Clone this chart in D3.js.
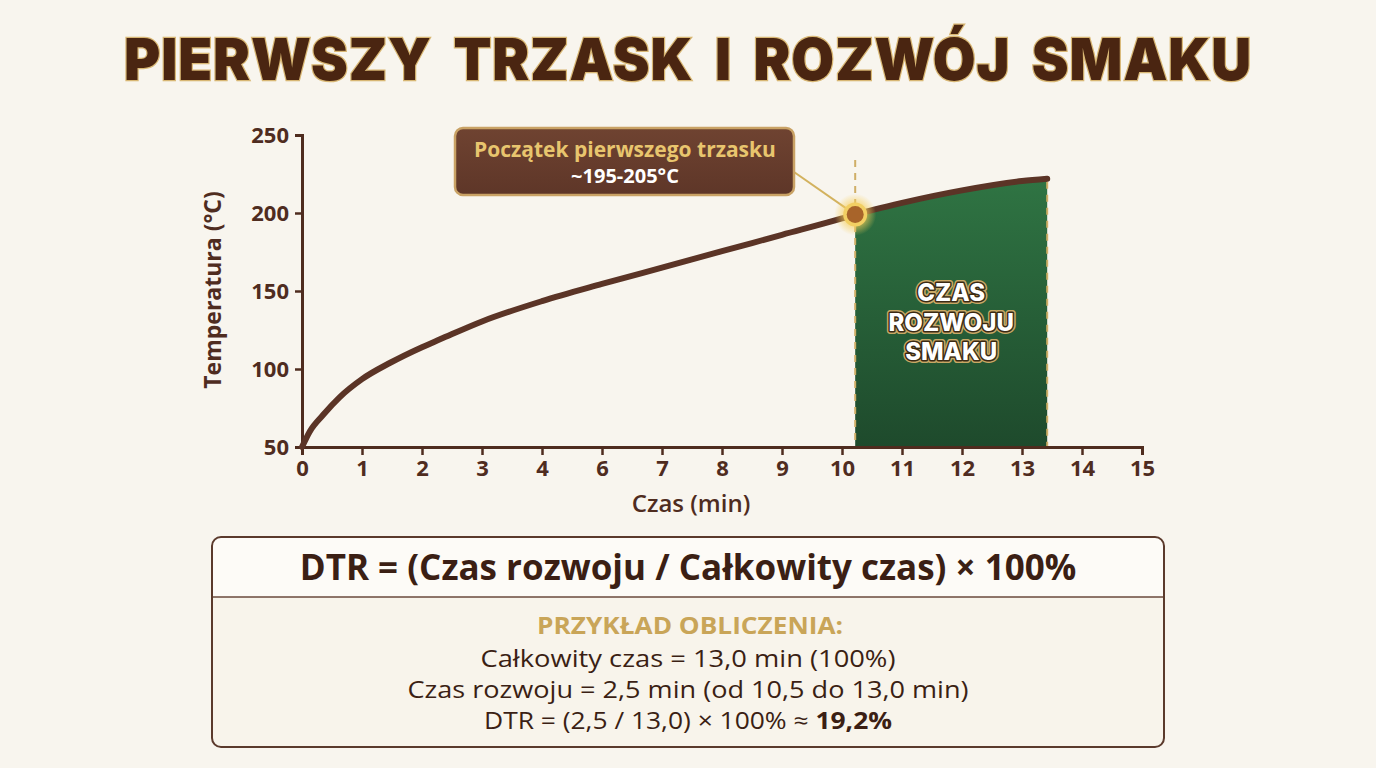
<!DOCTYPE html>
<html>
<head>
<meta charset="utf-8">
<script src="https://cdn.jsdelivr.net/npm/d3@7"></script>
<style>
  body { margin: 0; background: #f8f5ee; }
  svg { display: block; font-family: "Open Sans", "Noto Sans", sans-serif; }
</style>
</head>
<body>
<div id="chart"></div>
<script>
// data
// x axis is drawn with 15 evenly spaced ticks; the labels skip "5"
var xTickLabels = ["0", "1", "2", "3", "4", "6", "7", "8", "9", "10", "11", "12", "13", "14", "15"];
var yTicks = [50, 100, 150, 200, 250];

// roast curve, x in tick-slot units
var curveX    = [0, 0.13, 0.35, 0.63, 1, 1.47, 2, 2.3, 3, 4, 5, 6, 7, 8, 9, 9.22, 10, 11, 12, 12.42];
var curveTemp = [50, 60, 70.5, 82, 93.5, 104, 114, 119, 130.5, 143.5, 154.5, 165, 175.5, 186, 196.5, 199, 206.5, 214.5, 220.5, 222];

var crackX = 9.22;      // first crack marker
var devEnd = 12.42;     // end of development zone

var titleText = "PIERWSZY TRZASK I ROZWÓJ SMAKU";
var calloutLines = ["Początek pierwszego trzasku", "~195-205°C"];
var zoneLines = ["CZAS", "ROZWOJU", "SMAKU"];
var formulaText = "DTR = (Czas rozwoju / Całkowity czas) × 100%";
var exampleHead = "PRZYKŁAD OBLICZENIA:";
var exampleLines = [
  "Całkowity czas = 13,0 min (100%)",
  "Czas rozwoju = 2,5 min (od 10,5 do 13,0 min)"
];
var exampleLast = ["DTR = (2,5 / 13,0) × 100% ≈ ", "19,2%"];

var width = 1376, height = 768;
var brown = "#4f2c1f", lineBrown = "#5b3426", gold = "#cfae67";

var svg = d3.select("#chart").append("svg")
  .attr("width", width)
  .attr("height", height);

var defs = svg.append("defs");

var g1 = defs.append("linearGradient").attr("id", "greenGrad")
  .attr("x1", 0).attr("y1", 0).attr("x2", 0).attr("y2", 1);
g1.append("stop").attr("offset", "0%").attr("stop-color", "#2f7443");
g1.append("stop").attr("offset", "100%").attr("stop-color", "#1e4a2c");

var g2 = defs.append("linearGradient").attr("id", "boxGrad")
  .attr("x1", 0).attr("y1", 0).attr("x2", 0).attr("y2", 1);
g2.append("stop").attr("offset", "0%").attr("stop-color", "#6f4331");
g2.append("stop").attr("offset", "100%").attr("stop-color", "#5e3628");

var glow = defs.append("radialGradient").attr("id", "glow");
glow.append("stop").attr("offset", "0%").attr("stop-color", "#ffd75a").attr("stop-opacity", 0.95);
glow.append("stop").attr("offset", "55%").attr("stop-color", "#f6cf5c").attr("stop-opacity", 0.6);
glow.append("stop").attr("offset", "100%").attr("stop-color", "#f6cf5c").attr("stop-opacity", 0);

// title
svg.append("text")
  .attr("x", 688)
  .attr("y", 80)
  .attr("text-anchor", "middle")
  .attr("textLength", 1128)
  .attr("lengthAdjust", "spacingAndGlyphs")
  .style("font-family", "Inter, 'Open Sans', sans-serif")
  .style("font-size", "58px")
  .style("font-weight", 900)
  .style("letter-spacing", "1px")
  .style("word-spacing", "10px")
  .style("fill", "#4a2511")
  .style("stroke", "#d8b774")
  .style("stroke-width", 2.5)
  .style("paint-order", "stroke")
  .text(titleText);

// scales
var x = d3.scaleLinear().domain([0, 14]).range([302, 1142]);
var y = d3.scaleLinear().domain([50, 250]).range([447, 135]);

var pts = curveX.map(function(d, i) { return [d, curveTemp[i]]; });
var tempAt = function(xv) {
  for (var i = 1; i < pts.length; i++) {
    if (xv <= pts[i][0]) {
      var t = (xv - pts[i - 1][0]) / (pts[i][0] - pts[i - 1][0]);
      return pts[i - 1][1] + t * (pts[i][1] - pts[i - 1][1]);
    }
  }
  return pts[pts.length - 1][1];
};

var line = d3.line()
  .x(function(d) { return x(d[0]); })
  .y(function(d) { return y(d[1]); })
  .curve(d3.curveMonotoneX);

var area = d3.area()
  .x(function(d) { return x(d[0]); })
  .y0(y(50))
  .y1(function(d) { return y(d[1]); })
  .curve(d3.curveMonotoneX);

// development zone
var zonePts = pts.filter(function(d) { return d[0] >= crackX && d[0] <= devEnd; });
svg.append("path")
  .datum(zonePts)
  .attr("d", area)
  .style("fill", "url(#greenGrad)");

// dashed guides
svg.append("line")
  .attr("x1", x(crackX)).attr("x2", x(crackX))
  .attr("y1", 160).attr("y2", y(50))
  .style("stroke", gold).style("stroke-width", 2)
  .style("stroke-dasharray", "7,6");
svg.append("line")
  .attr("x1", x(devEnd)).attr("x2", x(devEnd))
  .attr("y1", y(tempAt(devEnd)) + 3).attr("y2", y(50))
  .style("stroke", gold).style("stroke-width", 2)
  .style("stroke-dasharray", "7,6");

// zone label
var zl = svg.append("g").attr("text-anchor", "middle")
  .style("font-family", "Inter, 'Open Sans', sans-serif")
  .style("font-size", "24px").style("font-weight", 800);
zoneLines.forEach(function(t, i) {
  zl.append("text")
    .attr("x", (x(crackX) + x(devEnd)) / 2)
    .attr("y", 301 + i * 29.5)
    .style("fill", "#ffffff")
    .style("stroke", "#c9a865").style("stroke-width", 6)
    .style("stroke-linejoin", "round")
    .style("paint-order", "stroke")
    .text(t);
  zl.append("text")
    .attr("x", (x(crackX) + x(devEnd)) / 2)
    .attr("y", 301 + i * 29.5)
    .style("fill", "#ffffff")
    .style("stroke", "#3a2a14").style("stroke-width", 3)
    .style("stroke-linejoin", "round")
    .style("paint-order", "stroke")
    .text(t);
});

// axes
var yAxis = svg.append("g")
  .attr("transform", "translate(" + x(0) + ",0)")
  .call(d3.axisLeft(y).tickValues(yTicks).tickSize(7).tickPadding(6));
var xAxis = svg.append("g")
  .attr("transform", "translate(0," + y(50) + ")")
  .call(d3.axisBottom(x).tickValues(d3.range(15)).tickSize(8).tickPadding(6)
    .tickFormat(function(d) { return xTickLabels[d]; }));

[xAxis, yAxis].forEach(function(ax) {
  ax.select(".domain").style("stroke", brown).style("stroke-width", 3);
  ax.selectAll(".tick line").style("stroke", brown).style("stroke-width", 2.5);
  ax.selectAll(".tick text")
    .style("fill", brown)
    .style("font-size", "22px")
    .style("font-weight", 700)
    .style("font-family", "'Open Sans', sans-serif");
});
yAxis.selectAll(".tick text").attr("dy", "0.35em");
xAxis.selectAll(".tick text").attr("dy", "0.68em");

svg.append("text")
  .attr("transform", "translate(221,290) rotate(-90)")
  .attr("text-anchor", "middle")
  .style("fill", brown).style("font-size", "23px").style("font-weight", 700)
  .text("Temperatura (°C)");

svg.append("text")
  .attr("x", 691).attr("y", 512)
  .attr("text-anchor", "middle")
  .style("fill", brown).style("font-size", "24px").style("font-weight", 600)
  .text("Czas (min)");

// curve
svg.append("path")
  .datum(pts)
  .attr("d", line)
  .style("fill", "none")
  .style("stroke", lineBrown)
  .style("stroke-width", 6)
  .style("stroke-linecap", "round");

// callout connector
var dotX = x(crackX), dotY = y(tempAt(crackX));
svg.append("line")
  .attr("x1", 794).attr("y1", 172)
  .attr("x2", dotX).attr("y2", dotY)
  .style("stroke", "#d3b25e").style("stroke-width", 2);

// marker
svg.append("circle").attr("cx", dotX).attr("cy", dotY).attr("r", 21)
  .style("fill", "url(#glow)");
svg.append("circle").attr("cx", dotX).attr("cy", dotY).attr("r", 12)
  .style("fill", "#f2cf63");
svg.append("circle").attr("cx", dotX).attr("cy", dotY).attr("r", 8.5)
  .style("fill", "#a8642a");

// callout box
svg.append("rect")
  .attr("x", 455).attr("y", 128).attr("width", 339).attr("height", 67)
  .attr("rx", 8)
  .style("fill", "url(#boxGrad)")
  .style("stroke", "#c9a265").style("stroke-width", 2.5);
svg.append("text")
  .attr("x", 625).attr("y", 157)
  .attr("text-anchor", "middle")
  .style("fill", "#e8c56e").style("font-size", "21px").style("font-weight", 700)
  .text(calloutLines[0]);
svg.append("text")
  .attr("x", 625).attr("y", 183)
  .attr("text-anchor", "middle")
  .style("fill", "#ffffff").style("font-size", "20px").style("font-weight", 700)
  .text(calloutLines[1]);

// formula box
var bx = 212, by = 537, bw = 952, bh = 210;
svg.append("rect")
  .attr("x", bx).attr("y", by).attr("width", bw).attr("height", bh)
  .attr("rx", 9)
  .style("fill", "#f8f4eb");
svg.append("path")
  .attr("d", "M" + bx + "," + (by + 60) + "V" + (by + 9) + "Q" + bx + "," + by + " " + (bx + 9) + "," + by +
    "H" + (bx + bw - 9) + "Q" + (bx + bw) + "," + by + " " + (bx + bw) + "," + (by + 9) + "V" + (by + 60) + "Z")
  .style("fill", "#fdfbf7");
svg.append("line")
  .attr("x1", bx).attr("x2", bx + bw)
  .attr("y1", by + 60).attr("y2", by + 60)
  .style("stroke", "#6a4a3c").style("stroke-width", 1.5);
svg.append("rect")
  .attr("x", bx).attr("y", by).attr("width", bw).attr("height", bh)
  .attr("rx", 9)
  .style("fill", "none")
  .style("stroke", "#5b3a2c").style("stroke-width", 2);

svg.append("text")
  .attr("x", 688).attr("y", 580)
  .attr("text-anchor", "middle")
  .style("fill", "#3b1f14").style("font-size", "35px").style("font-weight", 700)
  .text(formulaText);

svg.append("text")
  .attr("x", 690).attr("y", 634)
  .attr("text-anchor", "middle")
  .attr("textLength", 306)
  .attr("lengthAdjust", "spacingAndGlyphs")
  .style("fill", "#c9a558").style("font-size", "23px").style("font-weight", 700)
  .text(exampleHead);

var lineWidths = [415, 561];
exampleLines.forEach(function(t, i) {
  svg.append("text")
    .attr("x", 688).attr("y", 667 + i * 31)
    .attr("text-anchor", "middle")
    .attr("textLength", lineWidths[i])
    .attr("lengthAdjust", "spacingAndGlyphs")
    .style("fill", "#3b1f14").style("font-size", "23px")
    .text(t);
});
var last = svg.append("text")
  .attr("x", 688).attr("y", 729)
  .attr("text-anchor", "middle")
  .attr("textLength", 408)
  .attr("lengthAdjust", "spacingAndGlyphs")
  .style("fill", "#3b1f14").style("font-size", "23px");
last.append("tspan").text(exampleLast[0]);
last.append("tspan").style("font-weight", 700).text(exampleLast[1]);
</script>
</body>
</html>
